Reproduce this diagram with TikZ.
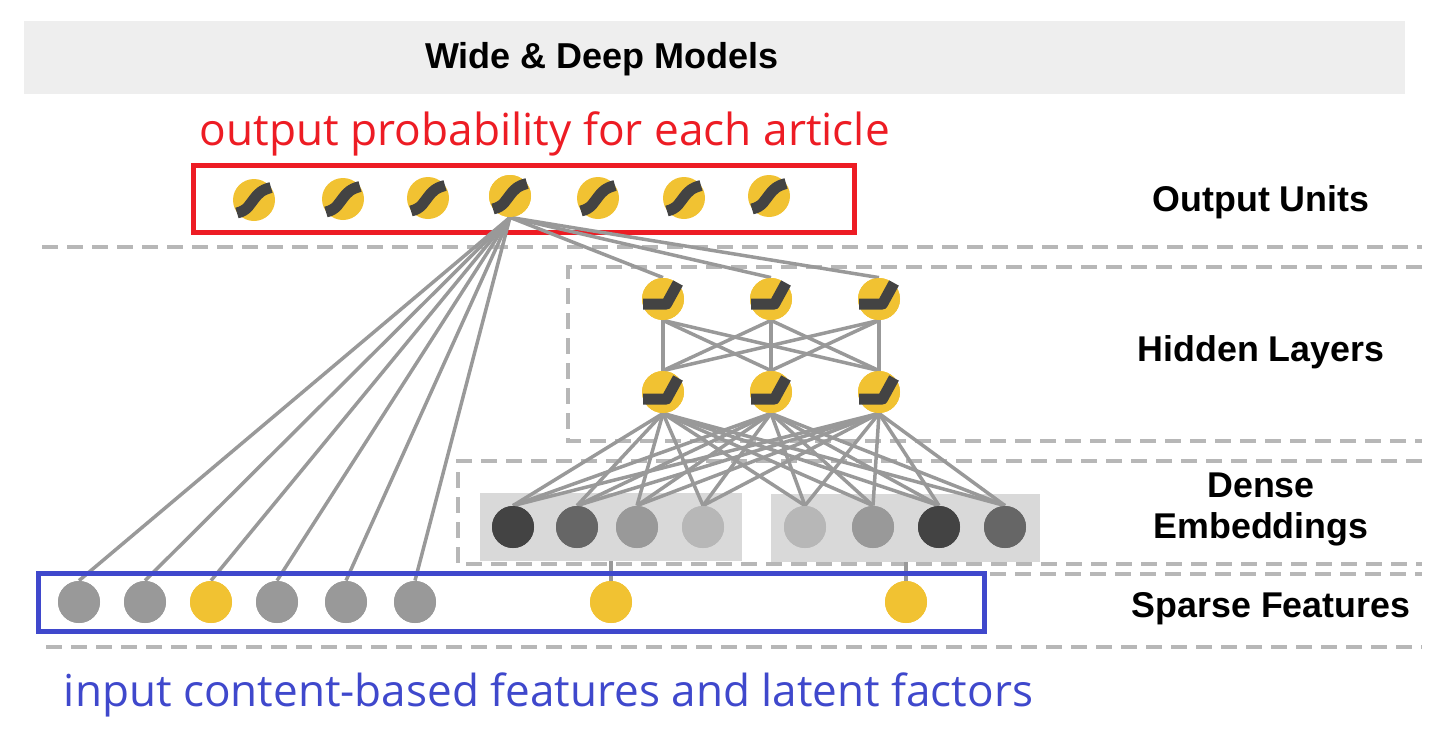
\documentclass[tikz,border=0pt]{standalone}
\usepackage{fontspec}
\setmainfont{Liberation Sans}
\newfontfamily\thinfont{Open Sans}
\definecolor{amber}{HTML}{F1C232}
\definecolor{ink}{HTML}{434343}
\definecolor{wire}{HTML}{999999}
\definecolor{dashgrey}{HTML}{B7B7B7}
\definecolor{band}{HTML}{EEEEEE}
\definecolor{panel}{HTML}{D9D9D9}
\definecolor{redbox}{HTML}{ED1C24}
\definecolor{bluebox}{HTML}{3F48CC}
\definecolor{eA}{HTML}{434343}
\definecolor{eB}{HTML}{666666}
\definecolor{eC}{HTML}{999999}
\definecolor{eD}{HTML}{B7B7B7}
\tikzset{
  unit/.style={circle,fill=#1,minimum size=21pt,inner sep=0pt,draw=none},
  wireline/.style={draw=wire,line width=1.75pt},
  dashline/.style={draw=dashgrey,line width=2pt,dash pattern=on 8pt off 4.5pt},
  glyph/.style={draw=ink,line width=5.5pt},
  sideLabel/.style={font=\fontsize{17.9}{20.7}\selectfont\bfseries,align=center,text=black},
  bigLabel/.style={font=\thinfont\fontsize{22.1}{26}\selectfont,anchor=base west,inner sep=0pt},
  bigLabelB/.style={font=\thinfont\fontsize{22.03}{26}\selectfont,anchor=base west,inner sep=0pt}
}
\begin{document}
\begin{tikzpicture}[x=0.5pt,y=-0.5pt]
\useasboundingbox (0,0) rectangle (1445,739);
% bands
\fill[band] (24,21) rectangle (1405,94);
\node[font=\fontsize{18}{20}\selectfont\bfseries] (title) at (602,59) {Wide \& Deep Models};
\node[bigLabel,text=redbox] (outtext) at (199.5,145) {output probability for each article};
\node[bigLabelB,text=bluebox] (intext) at (63.5,706) {input content-based features and latent factors};
% dashed
\draw[dashline] (42,247) -- (1422,247);
\draw[dashline] (1422,267) -- (568,267) -- (568,441) -- (1422,441);
\draw[dashline] (1422,461) -- (458,461) -- (458,564) -- (1422,564);
\draw[dashline] (990,574) -- (1422,574);
\draw[dashline] (46,647) -- (1422,647);
% side labels
\node[sideLabel] (lo) at (1261,202) {Output Units};
\node[sideLabel] (lh) at (1261,352) {Hidden Layers};
\node[sideLabel] (ld) at (1261,509.5) {Dense\\[-0.1pt]Embeddings};
\node[sideLabel] (ls) at (1271,609) {Sparse Features};
% panels
\node[fill=panel,minimum width=131pt,minimum height=34pt,inner sep=0pt] (p1) at (611,527) {};
\node[fill=panel,minimum width=134.5pt,minimum height=34pt,inner sep=0pt] (p2) at (905.5,528) {};
% nodes
\foreach \n/\x/\y in {o1/254/200,o2/343/199,o3/428/198,o4/510/196,o5/598/198,o6/684/198,o7/769/196}
  \node[unit=amber] (\n) at (\x,\y) {};
\foreach \n/\x/\y in {h1/663/299,h2/771/299,h3/879/299,g1/663/392,g2/771/392,g3/879/392}
  \node[unit=amber] (\n) at (\x,\y) {};
\foreach \n/\x/\c in {e1/513/eA,e2/577/eB,e3/637/eC,e4/703/eD,e5/805/eD,e6/873/eC,e7/939/eA,e8/1005/eB}
  \node[unit=\c] (\n) at (\x,527) {};
\foreach \n/\x/\c in {s1/79/wire,s2/145/wire,s3/211/amber,s4/277/wire,s5/346/wire,s6/415/wire,s7/611/amber,s8/906/amber}
  \node[unit=\c] (\n) at (\x,602) {};
% red frame
\draw[redbox,line width=2.6pt] (193.5,165.5) rectangle (854.5,232.5);
% connectors
\foreach \t in {s1,s2,s3,s4,s5,s6}
  \draw[wireline] (o4.south) -- (\t.north);
\foreach \t in {h1,h2,h3}
  \draw[wireline] (o4.south) -- (\t.north);
\foreach \a in {h1,h2,h3} \foreach \b in {g1,g2,g3}
  \draw[wireline] (\a.south) -- (\b.north);
\foreach \a in {g1,g2,g3} \foreach \b in {e1,e2,e3,e4,e5,e6,e7,e8}
  \draw[wireline] (\a.south) -- (\b.north);
\draw[wireline] (s7.north) -- (s7.north |- p1.south);
\draw[wireline] (s8.north) -- (s8.north |- p2.south);
% blue frame
\draw[bluebox,line width=2.5pt] (38.5,573.5) rectangle (984.5,631.5);
% circles again above wires
\foreach \n/\c in {e1/eA,e2/eB,e3/eC,e4/eD,e5/eD,e6/eC,e7/eA,e8/eB,h1/amber,h2/amber,h3/amber,g1/amber,g2/amber,g3/amber,s1/wire,s2/wire,s3/amber,s4/wire,s5/wire,s6/wire,s7/amber,s8/amber,o4/amber}
  \fill[\c] (\n) circle (10.5pt);
% glyphs
\foreach \n in {o1,o2,o3,o4,o5,o6,o7}
  \draw[glyph] ([shift={(-17,13)}]\n.center) .. controls ([shift={(-6,10.5)}]\n.center) and ([shift={(-4,3.5)}]\n.center) .. ([shift={(0,-1)}]\n.center) .. controls ([shift={(4,-6)}]\n.center) and ([shift={(7,-10)}]\n.center) .. ([shift={(17,-12.5)}]\n.center);
\foreach \n in {h1,h2,h3}
  \draw[glyph,line join=round] ([shift={(-20,5)}]\n.center) -- ([shift={(3.5,5)}]\n.center) -- ([shift={(15,-16)}]\n.center);
\foreach \n in {g1,g2,g3}
  \draw[glyph,line join=round] ([shift={(-20,7)}]\n.center) -- ([shift={(3.5,7)}]\n.center) -- ([shift={(15,-14)}]\n.center);
\end{tikzpicture}
\end{document}
